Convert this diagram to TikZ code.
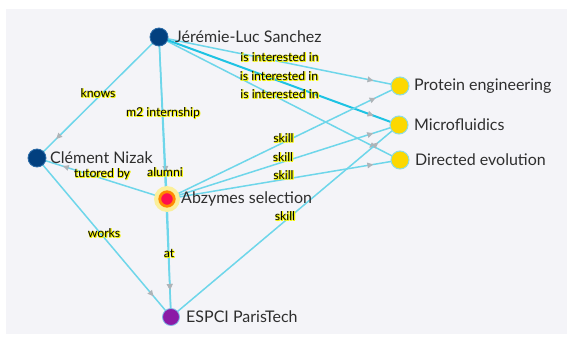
\documentclass[tikz,border=0pt]{standalone}
\usepackage{fontspec}
\setmainfont{Lato}
\usetikzlibrary{arrows.meta,decorations.markings,backgrounds,calc}
\definecolor{bgc}{HTML}{F4F4F8}
\definecolor{edgec}{HTML}{6ED6EA}
\definecolor{edgedark}{HTML}{1EC3E3}
\definecolor{personc}{HTML}{02407F}
\definecolor{personb}{HTML}{2A6BA8}
\definecolor{topicc}{HTML}{FCD800}
\definecolor{topicb}{HTML}{8EDCE0}
\definecolor{orgc}{HTML}{8B1AA6}
\definecolor{orgb}{HTML}{7FB8E6}
\definecolor{arrowc}{HTML}{AEB4B8}
\definecolor{glowc}{HTML}{F2F200}
\definecolor{txtc}{HTML}{2E2E2E}
\definecolor{redc}{HTML}{FF0F4F}
\definecolor{orangec}{HTML}{FF8A00}
\definecolor{haloc}{HTML}{FBEF9A}
\newcommand\glowlbl[1]{\makebox[0pt][l]{\textcolor{glowc}{\hspace{1pt}\raisebox{-1pt}{#1}}}\makebox[0pt][l]{\textcolor{glowc}{\hspace{1.1pt}#1}}\makebox[0pt][l]{\textcolor{glowc}{\raisebox{-1.1pt}{#1}}}#1}
\tikzset{
  lk/.style={draw=edgec, line width=1.5pt, postaction={decorate},
    decoration={markings, mark=at position -27pt with {\arrow[color=arrowc]{Triangle[length=6pt,width=5.5pt]}}}},
  lkdark/.style={lk, draw=edgedark, line width=2pt},
  person/.style={circle, fill=personc, draw=personb, line width=0.8pt, minimum size=18pt, inner sep=0pt},
  topic/.style={circle, fill=topicc, draw=topicb, line width=1pt, minimum size=18pt, inner sep=0pt},
  org/.style={circle, fill=orgc, draw=orgb, line width=0.8pt, minimum size=17pt, inner sep=0pt},
  hub/.style={circle, fill=redc, draw=orangec, line width=2.8pt, minimum size=14.5pt, inner sep=0pt},
  nametext/.style={anchor=west, inner sep=0pt, text=txtc, font=\fontsize{16}{18}\selectfont},
  elbl/.style={inner sep=0pt, text=black, font=\fontsize{12.2}{14}\selectfont},
}
\begin{document}
\begin{tikzpicture}[x=1pt,y=-1pt]
\useasboundingbox (0,0) rectangle (567,339);
% nodes
\fill[haloc] (167,199) circle (13);
\node[person] (J) at (159,37) {};
\node[person] (C) at (37,158) {};
\node[hub] (A) at (167,199) {};
\node[org] (E) at (171,317) {};
\node[topic] (P) at (400,86) {};
\node[topic] (M) at (399,125) {};
\node[topic] (D) at (400,160) {};
\node[nametext] (tJ) at (175,37) {Jérémie-Luc Sanchez};
\node[nametext] (tC) at (50,158) {Clément Nizak};
\node[nametext] (tA) at (181,199) {Abzymes selection};
\node[nametext] (tE) at (186,317) {ESPCI ParisTech};
\node[nametext] (tP) at (414,86) {Protein engineering};
\node[nametext] (tM) at (414,125) {Microfluidics};
\node[nametext] (tD) at (415,160) {Directed evolution};
% edges
\begin{scope}[on background layer]
\fill[bgc] (6,9) rectangle (567,334);
\draw[lk] (J.center) -- (C.center);
\draw[lk] (J.center) -- (A.center);
\draw[lk] (J.center) -- (E.center);
\draw[lk] (J.center) -- (P.center);
\draw[lk] (J.center) -- (D.center);
\draw[lkdark] (J.center) -- (M.center);
\draw[lk] (A.center) -- (C.center);
\draw[lk] (A.center) -- (E.center);
\draw[lk] (C.center) -- (E.center);
\draw[lk] (A.center) -- (P.center);
\draw[lk] (A.center) -- (M.center);
\draw[lk] (A.center) -- (D.center);
\draw[lk] (E.center) -- (M.center);
\end{scope}
% edge labels
\node[elbl] (l1) at ($(J)!.5!(C)+(0,-4)$) {\glowlbl{knows}};
\node[elbl] (l2) at ($(J)!.5!(A)+(0,-4)$) {\glowlbl{m2 internship}};
\node[elbl] (l3) at ($(J)!.5!(E)+(0,-4)$) {\glowlbl{alumni}};
\node[elbl] (l4) at ($(J)!.5!(P)+(0,-4)$) {\glowlbl{is interested in}};
\node[elbl] (l5) at ($(J)!.5!(M)+(0,-4)$) {\glowlbl{is interested in}};
\node[elbl] (l6) at ($(J)!.5!(D)+(0,-4)$) {\glowlbl{is interested in}};
\node[elbl] (l7) at ($(A)!.5!(C)+(0,-4)$) {\glowlbl{tutored by}};
\node[elbl] (l8) at ($(A)!.5!(E)+(0,-4)$) {\glowlbl{at}};
\node[elbl] (l9) at ($(C)!.5!(E)+(0,-4)$) {\glowlbl{works}};
\node[elbl] (l10) at ($(A)!.5!(P)+(0,-4)$) {\glowlbl{skill}};
\node[elbl] (l11) at ($(A)!.5!(M)+(0,-4)$) {\glowlbl{skill}};
\node[elbl] (l12) at ($(A)!.5!(D)+(0,-4)$) {\glowlbl{skill}};
\node[elbl] (l13) at ($(E)!.5!(M)+(0,-4)$) {\glowlbl{skill}};
\end{tikzpicture}
\end{document}
